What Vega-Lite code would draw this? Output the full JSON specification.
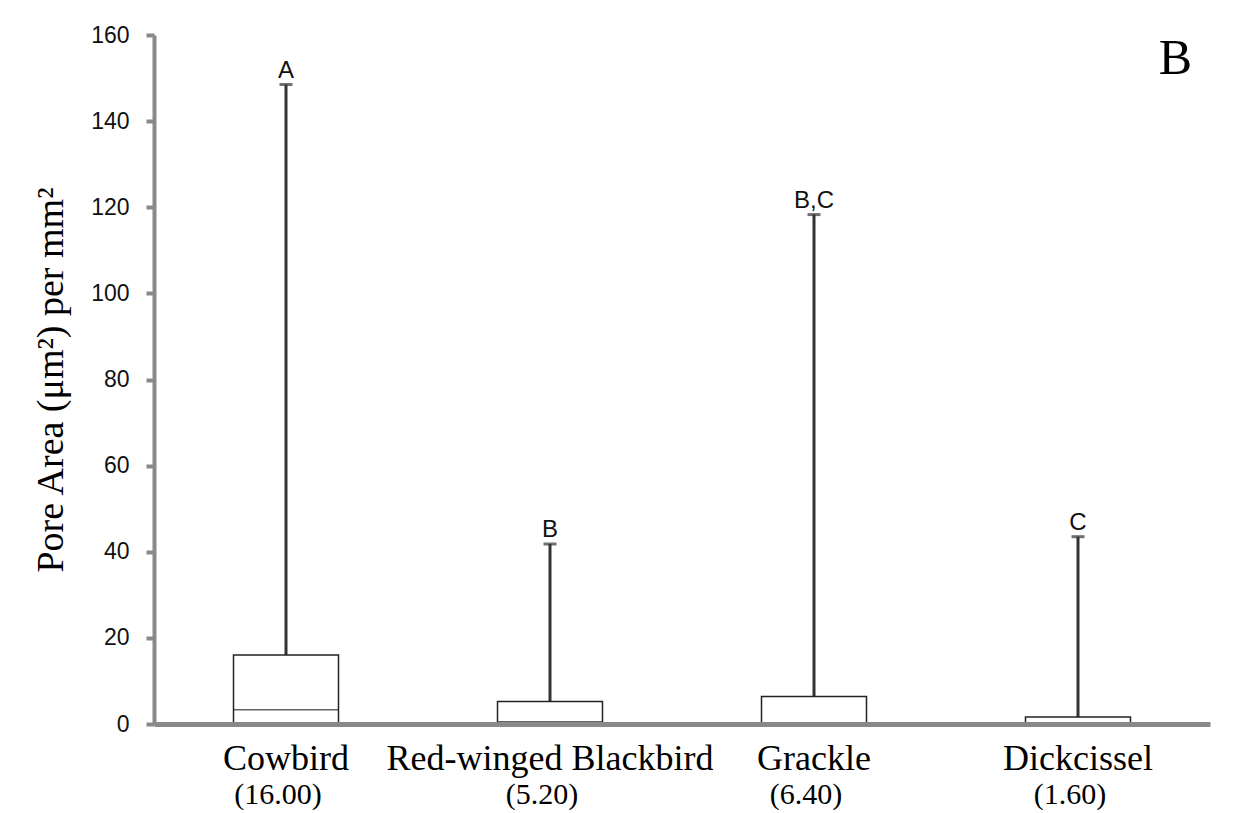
{
  "$schema": "https://vega.github.io/schema/vega-lite/v6.json",
  "width": 1056,
  "height": 689,
  "autosize": {"type": "none"},
  "padding": {"left": 154, "top": 35, "right": 31, "bottom": 89},
  "background": "white",
  "config": {"view": {"stroke": null}, "font": "Liberation Sans"},
  "title": {"text": "B", "anchor": "end", "font": "Liberation Serif", "fontSize": 50, "fontWeight": "normal", "offset": -110, "dx": -18, "color": "black", "baseline": "bottom"},
  "data": {"values": [
    {"species": "Cowbird", "n": "(16.00)", "min": 0, "median": 3.3, "q3": 16.0, "max": 148.5, "group": "A"},
    {"species": "Red-winged Blackbird", "n": "(5.20)", "min": 0, "median": 0.5, "q3": 5.2, "max": 41.8, "group": "B"},
    {"species": "Grackle", "n": "(6.40)", "min": 0, "median": 0.3, "q3": 6.4, "max": 118.3, "group": "B,C"},
    {"species": "Dickcissel", "n": "(1.60)", "min": 0, "median": 0.2, "q3": 1.6, "max": 43.5, "group": "C"}
  ]},
  "encoding": {
    "x": {"field": "species", "type": "nominal", "sort": null,
      "scale": {"paddingInner": 0, "paddingOuter": 0},
      "axis": {"title": null, "labelAngle": 0, "labelFont": "Liberation Serif", "labelFontSize": 36, "labelColor": "black", "labelLimit": 500,
        "ticks": false, "domainColor": "#898989", "domainWidth": 5, "labelPadding": 45, "labelBaseline": "alphabetic", "zindex": 1}}
  },
  "layer": [
    {
      "mark": {"type": "rule", "color": "#333333", "strokeWidth": 3},
      "encoding": {
        "y": {"field": "q3", "type": "quantitative", "scale": {"domain": [0, 160], "nice": false},
          "axis": {"title": "Pore Area (μm²) per mm²", "titleFont": "Liberation Serif", "titleFontSize": 38, "titleFontWeight": "normal", "titleColor": "black", "titlePadding": 20,
            "values": [0, 20, 40, 60, 80, 100, 120, 140, 160], "labelFontSize": 23, "labelColor": "#111111",
            "domainColor": "#898989", "domainWidth": 4, "tickColor": "#898989", "tickWidth": 4, "tickSize": 8, "labelPadding": 17, "grid": false, "zindex": 1}},
        "y2": {"field": "max"}
      }
    },
    {
      "mark": {"type": "tick", "orient": "horizontal", "size": 13, "thickness": 3, "color": "#333333"},
      "encoding": {"y": {"field": "max", "type": "quantitative"}}
    },
    {
      "mark": {"type": "bar", "size": 105, "fill": "white", "stroke": "#222222", "strokeWidth": 1.5},
      "encoding": {"y": {"field": "min", "type": "quantitative"}, "y2": {"field": "q3"}}
    },
    {
      "mark": {"type": "tick", "orient": "horizontal", "size": 105, "thickness": 1.5, "color": "#222222"},
      "encoding": {"y": {"field": "median", "type": "quantitative"}}
    },
    {
      "mark": {"type": "text", "fontSize": 24, "baseline": "alphabetic", "dy": -7, "color": "#111111", "font": "Liberation Sans"},
      "encoding": {"y": {"field": "max", "type": "quantitative"}, "text": {"field": "group"}}
    },
    {
      "mark": {"type": "text", "fontSize": 30, "baseline": "alphabetic", "dy": 80, "dx": -8, "color": "black", "font": "Liberation Serif"},
      "encoding": {"y": {"datum": 0}, "text": {"field": "n"}}
    }
  ]
}
